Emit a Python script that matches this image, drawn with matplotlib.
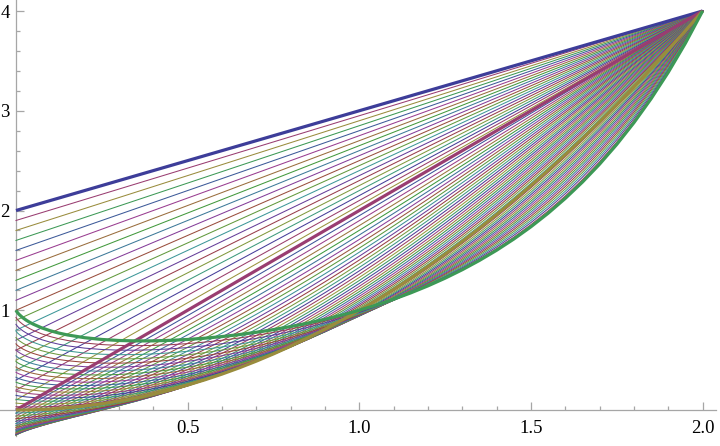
import numpy as np
import matplotlib
matplotlib.use("Agg")
import matplotlib.pyplot as plt
import colorsys

# ---- data (sample abscissae and the four thick curves) ----
x_vals = [0, 0.001, 0.002, 0.005, 0.01, 0.02, 0.03, 0.04, 0.05, 0.075,
          0.1, 0.125, 0.15, 0.2, 0.25, 0.3, 0.35, 0.4, 0.45, 0.5,
          0.55, 0.6, 0.65, 0.7, 0.75, 0.8, 0.85, 0.9, 0.95, 1.0,
          1.05, 1.1, 1.15, 1.2, 1.25, 1.3, 1.35, 1.4, 1.45, 1.5,
          1.55, 1.6, 1.65, 1.7, 1.75, 1.8, 1.85, 1.9, 1.95, 2.0]

# thick blue (x+2)
curve_sum = [2.0, 2.001, 2.002, 2.005, 2.01, 2.02, 2.03, 2.04, 2.05, 2.075,
             2.1, 2.125, 2.15, 2.2, 2.25, 2.3, 2.35, 2.4, 2.45, 2.5,
             2.55, 2.6, 2.65, 2.7, 2.75, 2.8, 2.85, 2.9, 2.95, 3.0,
             3.05, 3.1, 3.15, 3.2, 3.25, 3.3, 3.35, 3.4, 3.45, 3.5,
             3.55, 3.6, 3.65, 3.7, 3.75, 3.8, 3.85, 3.9, 3.95, 4.0]
# thick purple-red (2x)
curve_prod = [0.0, 0.002, 0.004, 0.01, 0.02, 0.04, 0.06, 0.08, 0.1, 0.15,
              0.2, 0.25, 0.3, 0.4, 0.5, 0.6, 0.7, 0.8, 0.9, 1.0,
              1.1, 1.2, 1.3, 1.4, 1.5, 1.6, 1.7, 1.8, 1.9, 2.0,
              2.1, 2.2, 2.3, 2.4, 2.5, 2.6, 2.7, 2.8, 2.9, 3.0,
              3.1, 3.2, 3.3, 3.4, 3.5, 3.6, 3.7, 3.8, 3.9, 4.0]
# thick olive (x^2)
curve_pow = [0.0, 0.000001, 0.000004, 0.000025, 0.0001, 0.0004, 0.0009, 0.0016, 0.0025, 0.005625,
             0.01, 0.015625, 0.0225, 0.04, 0.0625, 0.09, 0.1225, 0.16, 0.2025, 0.25,
             0.3025, 0.36, 0.4225, 0.49, 0.5625, 0.64, 0.7225, 0.81, 0.9025, 1.0,
             1.1025, 1.21, 1.3225, 1.44, 1.5625, 1.69, 1.8225, 1.96, 2.1025, 2.25,
             2.4025, 2.56, 2.7225, 2.89, 3.0625, 3.24, 3.4225, 3.61, 3.8025, 4.0]
# thick green (x^x)
curve_tet = [1.0, 0.9931, 0.9877, 0.9739, 0.9550, 0.9247, 0.9001, 0.8792, 0.8609, 0.8234,
             0.7943, 0.7711, 0.7524, 0.7248, 0.7071, 0.6968, 0.6925, 0.6931, 0.6982, 0.7071,
             0.7197, 0.7360, 0.7558, 0.7791, 0.8059, 0.8365, 0.8710, 0.9095, 0.9524, 1.0,
             1.0526, 1.1105, 1.1744, 1.2446, 1.3217, 1.4065, 1.4996, 1.6017, 1.7138, 1.8371,
             1.9725, 2.1213, 2.2849, 2.4647, 2.6627, 2.8807, 3.1208, 3.3856, 3.6777, 4.0]

# blend parameters of the thin curves
linear_steps = [0.05, 0.10, 0.15, 0.20, 0.25, 0.30, 0.35, 0.40, 0.45, 0.50,
                0.55, 0.60, 0.65, 0.70, 0.75, 0.80, 0.85, 0.90, 0.95]
quad_steps = [0.02, 0.04, 0.06, 0.08, 0.10, 0.12, 0.14, 0.16, 0.18, 0.20,
              0.22, 0.24, 0.26, 0.28, 0.30, 0.32, 0.34, 0.36, 0.38, 0.40,
              0.42, 0.44, 0.46, 0.48, 0.50, 0.52, 0.54, 0.56, 0.58, 0.60,
              0.62, 0.64, 0.66, 0.68, 0.70, 0.72, 0.74, 0.76, 0.78, 0.80,
              0.82, 0.84, 0.86, 0.88, 0.90, 0.92, 0.94, 0.96, 0.98]
quad_node = 0.62

x_ticks = [0.5, 1.0, 1.5, 2.0]
x_tick_labels = ["0.5", "1.0", "1.5", "2.0"]
y_ticks = [1, 2, 3, 4]
y_tick_labels = ["1", "2", "3", "4"]


def mma_color(i):
    if i == 1:
        h = 2.0 / 3.0
    else:
        h = (0.9061 + 0.236068 * (i - 2)) % 1.0
    return colorsys.hsv_to_rgb(h, 0.6, 0.6)


X = np.array(x_vals)
B = np.array(curve_sum)
R = np.array(curve_prod)
O = np.array(curve_pow)
G = np.array(curve_tet)

fig = plt.figure(figsize=(7.2, 4.46), dpi=100)
ax = fig.add_axes([0, 0, 1, 1])
ax.set_xlim(-0.0466, 2.0507)
ax.set_ylim(-0.3609, 4.1103)

thin_lw = 0.75
# straight family between blue and red
for k, u in enumerate(linear_steps, start=1):
    y = (1 - u) * B + u * R
    ax.plot(X, y, color=mma_color(k + 1), lw=thin_lw, zorder=2)

# curved family through red, olive, green
s = quad_node
for k, t in enumerate(quad_steps, start=1):
    l0 = (t - s) * (t - 1) / s
    l1 = t * (t - 1) / (s * (s - 1))
    l2 = t * (t - s) / (1 - s)
    y = l0 * R + l1 * O + l2 * G
    ax.plot(X, y, color=mma_color(21 + k), lw=thin_lw, zorder=2)

thick_lw = 2.3
for i, yv in enumerate([B, R, O, G], start=1):
    ax.plot(X, yv, color=mma_color(i), lw=thick_lw, zorder=3,
            solid_capstyle="butt")

# axes in the Mathematica style
axis_col = "#a6a6a6"
for side in ["top", "right"]:
    ax.spines[side].set_visible(False)
ax.spines["left"].set_position(("data", 0))
ax.spines["bottom"].set_position(("data", 0))
ax.spines["left"].set_bounds(-0.26, 4.11)
ax.spines["bottom"].set_bounds(-0.0466, 2.04)
for side in ["left", "bottom"]:
    ax.spines[side].set_color(axis_col)
    ax.spines[side].set_linewidth(0.9)
    ax.spines[side].set_zorder(1)

ax.set_xticks(x_ticks)
ax.set_xticklabels(x_tick_labels)
ax.set_xticks([v / 10 for v in range(1, 20) if v % 5 != 0], minor=True)
ax.set_yticks(y_ticks)
ax.set_yticklabels(y_tick_labels)
ax.set_yticks([v / 5 for v in range(1, 20) if v % 5 != 0], minor=True)

ax.tick_params(which="both", direction="in", color=axis_col, width=0.9)
ax.tick_params(which="major", length=5.5)
ax.tick_params(which="minor", length=3.2)
ax.tick_params(axis="x", which="major", pad=7.5)
ax.tick_params(axis="y", which="major", pad=4.5)
for lab in ax.get_xticklabels() + ax.get_yticklabels():
    lab.set_fontfamily("Liberation Serif")
    lab.set_fontsize(13.5)
    lab.set_color("black")

fig.savefig("out.png", dpi=100)
